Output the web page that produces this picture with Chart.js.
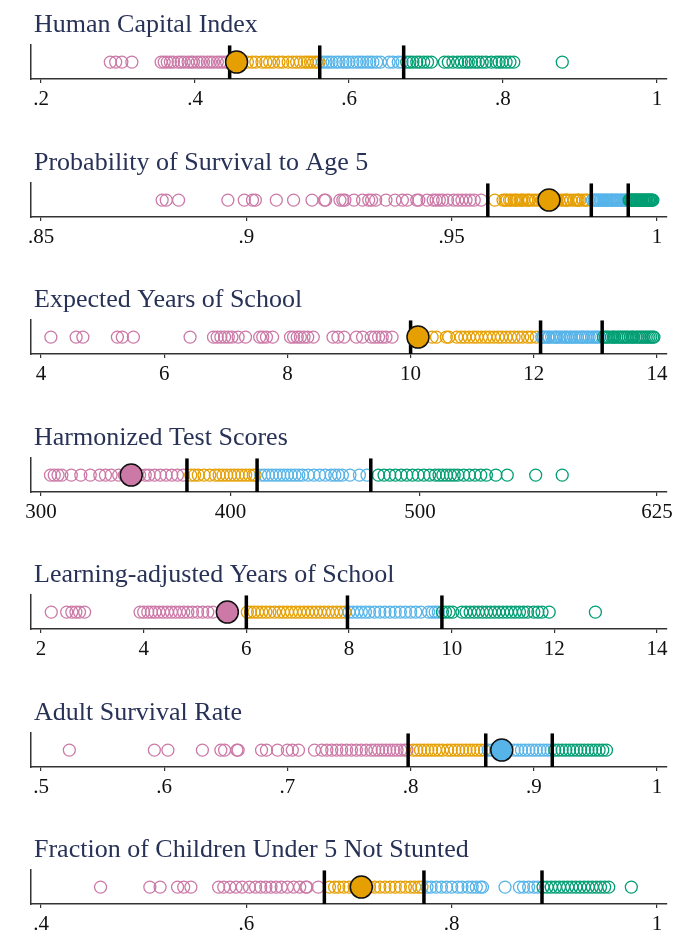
<!DOCTYPE html>
<html>
<head>
<meta charset="utf-8">
<script src="https://cdn.jsdelivr.net/npm/chart.js@4.4.0/dist/chart.umd.min.js"></script>
<style>
  body { margin: 0; background: #fff; width: 686px; height: 933px; overflow: hidden; position: relative; }
  .panel { position: absolute; left: 0; width: 686px; height: 137px; }
</style>
</head>
<body>
<script>
// quartile colours (pink, orange, blue, green)
var quartileColors = ['#CC79A7', '#E69F00', '#56B4E9', '#009E73'];

var titles = [
  'Human Capital Index',
  'Probability of Survival to Age 5',
  'Expected Years of School',
  'Harmonized Test Scores',
  'Learning-adjusted Years of School',
  'Adult Survival Rate',
  'Fraction of Children Under 5 Not Stunted'
];

// Human Capital Index
var hciValues = [0.290, 0.297, 0.305, 0.318,
  0.356, 0.360, 0.364, 0.368, 0.372, 0.378, 0.382, 0.386, 0.391, 0.395, 0.398, 0.403, 0.407, 0.411, 0.416, 0.420, 0.424, 0.429, 0.433, 0.437, 0.441,
  0.468, 0.474, 0.479, 0.487, 0.492, 0.497, 0.502, 0.509, 0.514, 0.521, 0.527, 0.532, 0.537, 0.542, 0.546, 0.550, 0.554, 0.558, 0.561,
  0.566, 0.570, 0.574, 0.578, 0.583, 0.587, 0.592, 0.596, 0.600, 0.605, 0.610, 0.614, 0.618, 0.623, 0.627, 0.631, 0.636, 0.641, 0.652, 0.657, 0.664, 0.669,
  0.675, 0.679, 0.683, 0.688, 0.692, 0.697, 0.702, 0.707, 0.724, 0.729, 0.735, 0.741, 0.746, 0.751, 0.755, 0.759, 0.764, 0.768, 0.773, 0.778, 0.785, 0.791, 0.795, 0.799, 0.804, 0.809, 0.814, 0.877];
var hciCuts = [0.445, 0.562, 0.671];
var hciCountry = 0.454;
var hciTicks = [0.2, 0.4, 0.6, 0.8, 1];
var hciTickLabels = ['.2', '.4', '.6', '.8', '1'];

// Probability of survival to age 5
var survValues = [0.8795, 0.8805, 0.8835, 0.8955, 0.8995, 0.9015, 0.9022, 0.9073, 0.9115, 0.9160, 0.9190, 0.9193, 0.9228, 0.9235, 0.9240, 0.9262,
  0.9283, 0.9298, 0.9305, 0.9315, 0.9340, 0.9362, 0.9380, 0.9392, 0.9415, 0.9420, 0.9440, 0.9455, 0.9462, 0.9470, 0.9478, 0.9490, 0.9505, 0.9515,
  0.9525, 0.9535, 0.9545, 0.9555, 0.9572,
  0.9605, 0.9625, 0.9630, 0.9635, 0.9641, 0.9645, 0.9652, 0.9656, 0.9660, 0.9668, 0.9671, 0.9675, 0.9683, 0.9687, 0.9690, 0.9698, 0.9705, 0.9712,
  0.9720, 0.9728, 0.9745, 0.9752, 0.9756, 0.9760, 0.9768, 0.9775, 0.9779, 0.9782, 0.9790, 0.9798, 0.9805, 0.9808, 0.9812, 0.9820, 0.9826, 0.9830,
  0.9843, 0.9847, 0.9849, 0.9853, 0.9856, 0.9858, 0.9862, 0.9864, 0.9868, 0.9871, 0.9874, 0.9878, 0.9880, 0.9884, 0.9888, 0.9891, 0.9893, 0.9898,
  0.9901, 0.9904, 0.9908, 0.9912, 0.9914, 0.9919, 0.9922, 0.9925, 0.9929,
  0.9932, 0.9934, 0.9937, 0.9938, 0.9941, 0.9942, 0.9945, 0.9946, 0.9948, 0.9951, 0.9952, 0.9954, 0.9957, 0.9958, 0.9961, 0.9962, 0.9964, 0.9967,
  0.9968, 0.9970, 0.9973, 0.9974, 0.9976, 0.9979, 0.9980, 0.9982, 0.9985, 0.9986, 0.9988, 0.9990];
var survCuts = [0.9588, 0.9840, 0.9930];
var survCountry = 0.9737;
var survTicks = [0.85, 0.9, 0.95, 1];
var survTickLabels = ['.85', '.9', '.95', '1'];

// Expected years of school
var eysValues = [4.16, 4.57, 4.68, 5.24, 5.32, 5.50, 6.42, 6.80, 6.86, 6.92, 6.98, 7.04, 7.10, 7.20, 7.32, 7.55, 7.60, 7.66, 7.76, 8.05, 8.10,
  8.16, 8.21, 8.27, 8.33, 8.42, 8.74, 8.82, 8.92, 9.12, 9.22, 9.36, 9.42, 9.48, 9.54, 9.60, 9.70,
  10.35, 10.42, 10.58, 10.62, 10.75, 10.82, 10.88, 10.95, 11.02, 11.08, 11.15, 11.22, 11.28, 11.35, 11.42, 11.48, 11.55, 11.62, 11.68, 11.75,
  11.82, 11.90, 11.96, 12.04,
  12.13, 12.16, 12.19, 12.23, 12.25, 12.29, 12.33, 12.36, 12.38, 12.42, 12.45, 12.49, 12.52, 12.55, 12.59, 12.61, 12.65, 12.68, 12.71, 12.75,
  12.78, 12.80, 12.84, 12.87, 12.90, 12.94, 12.97, 13.00, 13.03, 13.06,
  13.13, 13.16, 13.19, 13.22, 13.26, 13.29, 13.31, 13.35, 13.38, 13.41, 13.44, 13.47, 13.50, 13.53, 13.57, 13.60, 13.62, 13.66, 13.69, 13.72,
  13.75, 13.78, 13.81, 13.84, 13.87, 13.90, 13.93, 13.95];
var eysCuts = [10.0, 12.11, 13.11];
var eysCountry = 10.12;
var eysTicks = [4, 6, 8, 10, 12, 14];
var eysTickLabels = ['4', '6', '8', '10', '12', '14'];

// Harmonized test scores
var htsValues = [305, 307, 309, 311, 316, 321, 326, 331, 334, 337, 341, 344, 352, 355, 357, 360, 363, 366, 369, 372, 375,
  379, 381, 383, 386, 389, 392, 394, 396, 398, 400, 402, 404, 406, 408, 410, 412, 413,
  416, 418, 420, 422, 424, 426, 428, 430, 432, 434, 436, 438, 441, 444, 447, 450, 453, 455, 457, 459, 463, 468, 472,
  478, 481, 484, 487, 490, 493, 496, 499, 502, 505, 508, 510, 512, 514, 516, 518, 520, 523, 526, 529, 532, 535, 540, 546, 561, 575];
var htsCuts = [377, 414, 474];
var htsCountry = 347.6;
var htsTicks = [300, 400, 500, 625];
var htsTickLabels = ['300', '400', '500', '625'];

// Learning-adjusted years of school
var laysValues = [2.2, 2.5, 2.6, 2.68, 2.75, 2.85, 3.93, 4.0, 4.08, 4.15, 4.22, 4.3, 4.38, 4.46, 4.54, 4.62, 4.7, 4.78, 4.86, 4.95, 5.05, 5.15, 5.25, 5.35,
  6.02, 6.08, 6.15, 6.22, 6.3, 6.38, 6.46, 6.55, 6.64, 6.72, 6.8, 6.88, 6.96, 7.04, 7.12, 7.2, 7.28, 7.36, 7.44, 7.52, 7.6, 7.68, 7.76, 7.84, 7.92,
  8.0, 8.08, 8.16, 8.24, 8.32, 8.4, 8.5, 8.6, 8.7, 8.8, 8.9, 9.0, 9.1, 9.2, 9.3, 9.4, 9.55, 9.62, 9.68, 9.74,
  9.82, 9.88, 9.95, 10.02, 10.2, 10.28, 10.36, 10.44, 10.52, 10.6, 10.68, 10.76, 10.84, 10.92, 11.0, 11.08, 11.16, 11.24, 11.32, 11.4, 11.48,
  11.6, 11.68, 11.76, 11.9, 12.8];
var laysCuts = [6.0, 7.97, 9.81];
var laysCountry = 5.63;
var laysTicks = [2, 4, 6, 8, 10, 12, 14];
var laysTickLabels = ['2', '4', '6', '8', '10', '12', '14'];

// Adult survival rate
var asrValues = [0.523, 0.592, 0.603, 0.631, 0.646, 0.649, 0.659, 0.660, 0.679, 0.683, 0.692, 0.700, 0.704, 0.709, 0.722, 0.728, 0.732, 0.736,
  0.740, 0.744, 0.748, 0.752, 0.756, 0.760, 0.764, 0.768, 0.771, 0.774, 0.777, 0.780, 0.783, 0.786, 0.789, 0.792, 0.795, 0.797,
  0.802, 0.805, 0.808, 0.811, 0.814, 0.817, 0.820, 0.823, 0.826, 0.830, 0.833, 0.836, 0.839, 0.842, 0.845, 0.848, 0.851, 0.854, 0.857, 0.860,
  0.863, 0.866, 0.869, 0.884, 0.887, 0.890, 0.893, 0.896, 0.899, 0.902, 0.905, 0.908, 0.911, 0.914,
  0.917, 0.920, 0.923, 0.926, 0.929, 0.932, 0.935, 0.938, 0.941, 0.944, 0.947, 0.950, 0.953, 0.956, 0.959];
var asrCuts = [0.798, 0.861, 0.915];
var asrCountry = 0.874;
var asrTicks = [0.5, 0.6, 0.7, 0.8, 0.9, 1];
var asrTickLabels = ['.5', '.6', '.7', '.8', '.9', '1'];

// Fraction of children under 5 not stunted
var nsValues = [0.458, 0.506, 0.516, 0.533, 0.539, 0.546, 0.573, 0.578, 0.584, 0.590, 0.596, 0.603, 0.609, 0.614, 0.619, 0.624, 0.629, 0.634,
  0.640, 0.646, 0.652, 0.658, 0.659, 0.670,
  0.681, 0.686, 0.690, 0.695, 0.700, 0.705, 0.720, 0.725, 0.730, 0.735, 0.740, 0.745, 0.750, 0.755, 0.760, 0.764, 0.768, 0.771,
  0.776, 0.780, 0.785, 0.790, 0.795, 0.800, 0.806, 0.810, 0.816, 0.820, 0.824, 0.828, 0.830, 0.852, 0.866, 0.870, 0.875, 0.880, 0.884,
  0.889, 0.893, 0.897, 0.901, 0.905, 0.909, 0.913, 0.917, 0.921, 0.925, 0.929, 0.933, 0.937, 0.941, 0.945, 0.949, 0.953, 0.975];
var nsCuts = [0.676, 0.773, 0.888];
var nsCountry = 0.712;
var nsTicks = [0.4, 0.6, 0.8, 1];
var nsTickLabels = ['.4', '.6', '.8', '1'];

var panels = [
  { values: hciValues, cuts: hciCuts, country: hciCountry, ticks: hciTicks, labels: hciTickLabels },
  { values: survValues, cuts: survCuts, country: survCountry, ticks: survTicks, labels: survTickLabels },
  { values: eysValues, cuts: eysCuts, country: eysCountry, ticks: eysTicks, labels: eysTickLabels },
  { values: htsValues, cuts: htsCuts, country: htsCountry, ticks: htsTicks, labels: htsTickLabels },
  { values: laysValues, cuts: laysCuts, country: laysCountry, ticks: laysTicks, labels: laysTickLabels },
  { values: asrValues, cuts: asrCuts, country: asrCountry, ticks: asrTicks, labels: asrTickLabels },
  { values: nsValues, cuts: nsCuts, country: nsCountry, ticks: nsTicks, labels: nsTickLabels }
];

function quartileColor(v, cuts) {
  var q = 0;
  while (q < cuts.length && v >= cuts[q]) q++;
  return quartileColors[q];
}

var fontFamily = "'Liberation Serif', 'DejaVu Serif', serif";

// nudge the title a few px right of the y axis line
var titleShift = {
  id: 'titleShift',
  afterLayout: function (chart) {
    if (chart.titleBlock) {
      chart.titleBlock.left += 3;
      chart.titleBlock.right += 3;
    }
  }
};

panels.forEach(function (p, i) {
  var div = document.createElement('div');
  div.className = 'panel';
  div.style.top = Math.round(i * 137.5) + 'px';
  var canvas = document.createElement('canvas');
  div.appendChild(canvas);
  document.body.appendChild(div);

  var first = p.ticks[0], last = p.ticks[p.ticks.length - 1];
  var pad = (last - first) * 0.01625;

  var datasets = [{
    type: 'scatter',
    data: p.values.map(function (v) { return { x: v, y: 0 }; }),
    pointRadius: 6,
    pointBorderWidth: 1.3,
    pointBackgroundColor: 'rgba(0,0,0,0)',
    pointBorderColor: p.values.map(function (v) { return quartileColor(v, p.cuts); }),
    order: 3
  }];
  p.cuts.forEach(function (c) {
    datasets.push({
      type: 'line',
      data: [{ x: c, y: -1 }, { x: c, y: 1 }],
      borderColor: '#000',
      borderWidth: 3.5,
      pointRadius: 0,
      order: 2
    });
  });
  datasets.push({
    type: 'scatter',
    data: [{ x: p.country, y: 0 }],
    pointRadius: 11,
    pointBorderWidth: 1.5,
    pointBackgroundColor: quartileColor(p.country, p.cuts),
    pointBorderColor: '#111',
    order: 1
  });

  new Chart(canvas, {
    data: { datasets: datasets },
    plugins: [titleShift],
    options: {
      responsive: true,
      maintainAspectRatio: false,
      animation: false,
      layout: { padding: { left: 31, right: 19, top: 0, bottom: 0 } },
      plugins: {
        legend: { display: false },
        tooltip: { enabled: false },
        title: {
          display: true,
          text: titles[i],
          align: 'start',
          color: '#283257',
          font: { family: fontFamily, size: 26, weight: 'normal' },
          padding: { top: 10, bottom: 4 }
        }
      },
      scales: {
        x: {
          type: 'linear',
          min: first - pad,
          max: last + pad,
          afterBuildTicks: function (scale) {
            scale.ticks = p.ticks.map(function (v) { return { value: v }; });
          },
          afterFit: function (scale) { scale.height = 58; },
          ticks: {
            autoSkip: false,
            maxRotation: 0,
            padding: 4,
            color: '#111',
            font: { family: fontFamily, size: 21 },
            callback: function (value, index) { return p.labels[index]; }
          },
          grid: { display: true, drawOnChartArea: false, drawTicks: true, tickLength: 4, color: '#333', lineWidth: 1.2 },
          border: { display: true, color: '#333', width: 1.5 }
        },
        y: {
          type: 'linear',
          min: -1,
          max: 1,
          afterFit: function (scale) { scale.width = 0; },
          ticks: { display: false },
          grid: { display: false },
          border: { display: true, color: '#333', width: 1.5 }
        }
      }
    }
  });
});
</script>
</body>
</html>
